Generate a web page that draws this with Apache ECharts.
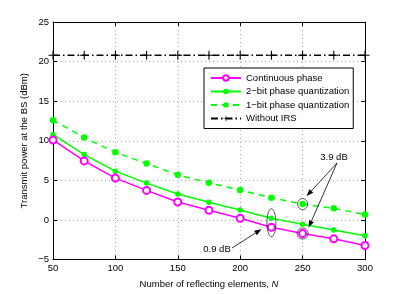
<!DOCTYPE html>
<html><head><meta charset="utf-8">
<script src="https://cdn.jsdelivr.net/npm/echarts@6/dist/echarts.min.js"></script>
<style>html,body{margin:0;padding:0;background:#fff}#c{width:403px;height:294px}</style>
</head><body><div id="c"></div>
<script>
var N = [50, 75, 100, 125, 150, 175, 200, 225, 250, 275, 300];
var continuousPhase = [10.1, 7.45, 5.28, 3.73, 2.26, 1.22, 0.21, -0.92, -1.72, -2.39, -3.23];
var twoBit = [10.8, 8.25, 6.16, 4.65, 3.27, 2.22, 1.26, 0.21, -0.54, -1.26, -2.0];
var oneBit = [12.6, 10.4, 8.54, 7.12, 5.69, 4.69, 3.77, 2.8, 2.0, 1.47, 0.67];
var withoutIRS = [20.8, 20.8, 20.8, 20.8, 20.8, 20.8, 20.8, 20.8, 20.8, 20.8, 20.8];
var names = ['Continuous phase', '2\u2212bit phase quantization', '1\u2212bit phase quantization', 'Without IRS'];
var xTicks = [50, 100, 150, 200, 250, 300];
var yTicks = [-5, 0, 5, 10, 15, 20, 25];

function pairs(v){ return N.map(function(n,i){ return [n, v[i]]; }); }
var FONT = 'Liberation Sans';
var chart = echarts.init(document.getElementById('c'), null, {renderer:'canvas'});
var fmt = function(v){ return String(v).replace('-', '\u2212'); };
var plus = 'path://M4.4,0H5.6V4.4H10V5.6H5.6V10H4.4V5.6H0V4.4H4.4Z';
var option = {
  animation:false,
  backgroundColor:'#fff',
  textStyle:{fontFamily:FONT},
  grid:{left:53, right:38, top:22, bottom:33},
  xAxis:[{
    type:'value', min:50, max:300, interval:50,
    name:'Number of reflecting elements, {i|N}', nameLocation:'middle', nameGap:19.5, nameMoveOverlap:false,
    nameTextStyle:{fontFamily:FONT, fontSize:9.5, color:'#000', rich:{i:{fontStyle:'italic', fontFamily:FONT, fontSize:9.5, color:'#000'}}},
    axisLine:{onZero:false, lineStyle:{color:'#000', width:1}},
    axisTick:{inside:true, length:4, lineStyle:{color:'#000'}},
    axisLabel:{fontFamily:FONT, fontSize:9.5, color:'#000', margin:4, formatter:fmt},
    splitLine:{show:true, lineStyle:{color:'#aaaaaa', type:[1,3], width:1}}
  },{
    type:'value', min:50, max:300, interval:50, position:'top',
    axisLine:{show:true, onZero:false, lineStyle:{color:'#000', width:1}},
    axisTick:{inside:true, length:4, lineStyle:{color:'#000'}},
    axisLabel:{show:false}, splitLine:{show:false}
  }],
  yAxis:[{
    type:'value', min:-5, max:25, interval:5,
    name:'Transmit power at the BS (dBm)', nameLocation:'middle', nameGap:24, nameMoveOverlap:false,
    nameTextStyle:{fontFamily:FONT, fontSize:9.5, color:'#000'},
    axisLine:{show:true, onZero:false, lineStyle:{color:'#000', width:1}},
    axisTick:{show:true, inside:true, length:4, lineStyle:{color:'#000'}},
    axisLabel:{fontFamily:FONT, fontSize:9.5, color:'#000', margin:4, formatter:fmt},
    splitLine:{show:true, lineStyle:{color:'#aaaaaa', type:[1,3], width:1}}
  },{
    type:'value', min:-5, max:25, interval:5, position:'right',
    axisLine:{show:true, onZero:false, lineStyle:{color:'#000', width:1}},
    axisTick:{show:true, inside:true, length:4, lineStyle:{color:'#000'}},
    axisLabel:{show:false}, splitLine:{show:false}
  }],
  legend:{
    orient:'vertical', left:204, top:68, padding:[5,4,5,6],
    borderColor:'#000', borderWidth:1, backgroundColor:'#fff',
    itemWidth:30, itemHeight:7, itemGap:3.5,
    textStyle:{fontFamily:FONT, fontSize:9.5, color:'#000'},
    data:names
  },
  series:[
    {name:names[0], type:'line', data:pairs(continuousPhase), symbol:'emptyCircle', symbolSize:7,
     itemStyle:{color:'#ff00ff', borderWidth:1.3}, lineStyle:{color:'#ff00ff', width:1.5}, z:5},
    {name:names[1], type:'line', data:pairs(twoBit), symbol:'circle', symbolSize:5.5,
     itemStyle:{color:'#00ff00'}, lineStyle:{color:'#00ff00', width:1.5}, z:4},
    {name:names[2], type:'line', data:pairs(oneBit), symbol:'circle', symbolSize:6.5,
     itemStyle:{color:'#00ff00'}, lineStyle:{color:'#00ff00', width:1.5, type:[6,5]}, z:4},
    {name:names[3], type:'line', data:pairs(withoutIRS), symbol:plus, symbolSize:9,
     itemStyle:{color:'#000'}, lineStyle:{color:'#000', width:1.3, type:[7,3,1.5,3]}, z:3}
  ]
};
chart.setOption(option);

function px(x,y){ return chart.convertToPixel({gridIndex:0}, [x,y]); }
function ellipse(cx,cy,rx,ry){
  var pts=[]; for(var k=0;k<48;k++){ var a=k/48*Math.PI*2; pts.push([cx+rx*Math.cos(a), cy+ry*Math.sin(a)]); }
  return {type:'polygon', shape:{points:pts}, style:{fill:'none', stroke:'#222', lineWidth:0.8}, z:20};
}
function arrow(x1,y1,x2,y2){
  var a=Math.atan2(y2-y1,x2-x1), L=7, W=2.6;
  var bx=x2-L*Math.cos(a), by=y2-L*Math.sin(a);
  return [
    {type:'line', shape:{x1:x1,y1:y1,x2:bx,y2:by}, style:{stroke:'#000', lineWidth:0.8}, z:20},
    {type:'polygon', shape:{points:[[x2,y2],[bx+W*Math.sin(a), by-W*Math.cos(a)],[bx-W*Math.sin(a), by+W*Math.cos(a)]]}, style:{fill:'#000'}, z:20}
  ];
}
var pA = px(250, oneBit[8]), pB = px(250, continuousPhase[8]);
var pC1 = px(225, continuousPhase[7]), pC2 = px(225, twoBit[7]);
var g = [];
g.push(ellipse(pA[0], pA[1], 5, 5.5));
g.push(ellipse(pB[0], pB[1], 5.5, 5.5));
g.push(ellipse(pC1[0], (pC1[1]+pC2[1])/2, 4.5, 14));
g = g.concat(arrow(337, 163, pA[0]+4, pA[1]-8));
g = g.concat(arrow(337, 163, pB[0]+6, pB[1]-6));
g = g.concat(arrow(232, 248, pC1[0]-10, pC1[1]+2));
g.push({type:'text', style:{text:'3.9 dB', x:334, y:157, align:'center', verticalAlign:'middle', font:'9.5px "Liberation Sans"', fill:'#000'}, z:21});
g.push({type:'text', style:{text:'0.9 dB', x:217, y:249, align:'center', verticalAlign:'middle', font:'9.5px "Liberation Sans"', fill:'#000'}, z:21});
chart.setOption({graphic:g});
</script>
</body></html>
